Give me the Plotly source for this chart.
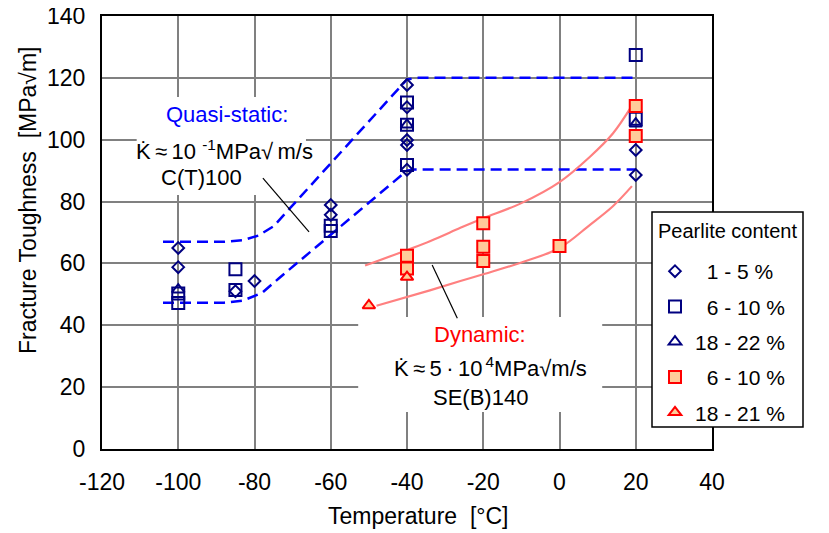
import plotly.graph_objects as go

# ---------------- data ----------------
# Quasi-static (blue, open markers)
qs_d_x = [-100, -100, -85, -80, -60, -60, -40, -40, -40, -40, -40, 20, 20]
qs_d_y = [65.0, 58.8, 51.0, 54.3, 78.9, 75.7, 117.7, 110.5, 99.9, 98.3, 90.3, 96.7, 88.6]
qs_s_x = [-100, -100, -85, -85, -60, -60, -40, -40, -40, 20, 20]
qs_s_y = [50.3, 47.2, 58.1, 51.4, 72.2, 70.5, 112.0, 104.8, 91.8, 127.4, 106.8]
qs_t_x = [-100, -40, 20]
qs_t_y = [51.5, 104.8, 105.2]
# Dynamic (red, filled markers)
dy_s_x = [-40, -40, -20, -20, -20, 0, 20, 20]
dy_s_y = [62.5, 58.4, 73.0, 65.4, 60.8, 65.6, 110.9, 101.2]
dy_t_x = [-50, -40]
dy_t_y = [46.4, 55.6]

# scatter-band curves
qs_up_x = [-104, -88, -83, -79, -75, -40, -37, 20]
qs_up_y = [67.0, 67.0, 67.5, 69.0, 72.0, 119.5, 120.0, 120.0]
qs_lo_x = [-104, -88, -83, -78, -73.5, -40, -38, 20]
qs_lo_y = [47.3, 47.3, 48.0, 50.5, 55.3, 90.0, 90.4, 90.4]
dy_up_x = [-51, -34, -26, -20, -10, 0, 8, 14, 19]
dy_up_y = [59.3, 67.2, 71.5, 74.6, 79.5, 86.3, 94.5, 102.0, 111.0]
dy_lo_x = [-48, -34, -26, -20, -10, 0, 8, 14, 19]
dy_lo_y = [46.3, 51.3, 54.3, 56.5, 60.3, 65.0, 72.5, 78.5, 85.0]

# leader lines
qs_leader_x = [-77.8, -65.7]
qs_leader_y = [87.6, 70.2]
dy_leader_x = [-33.4, -26.8]
dy_leader_y = [59.5, 42.3]

x_ticks = [-120, -100, -80, -60, -40, -20, 0, 20, 40]
y_ticks = [0, 20, 40, 60, 80, 100, 120, 140]

legend_title = "Pearlite content"
legend_names = ["\u00a0\u00a01 - 5 %", "\u00a0\u00a06 - 10 %", "18 - 22 %",
                "\u00a0\u00a06 - 10 %", "18 - 21 %"]

FONT = "Liberation Sans, Arial, sans-serif"
NAVY = "#000080"
BLUE = "#0000FF"
RED = "#FF0000"
PEACH = "#FFCC99"
SALMON = "#FF8080"

# page is offset by the 8px body margin; plot area in page pixels: x 102..712, y 16..449
OFF = 8
PL, PR, PT, PB = 102, 712, 16, 449
PW, PH = PR - PL, PB - PT
W, H = 829 - OFF, 533 - OFF


def px(xp):
    return (xp - PL) / PW


def py(yp):
    return (PB - yp) / PH


fig = go.Figure()

# band lines
for xs, ys in [(qs_up_x, qs_up_y), (qs_lo_x, qs_lo_y)]:
    fig.add_trace(go.Scatter(x=xs, y=ys, mode="lines", showlegend=False, hoverinfo="skip",
                             line=dict(color=BLUE, width=2.5, dash="11px,6px")))
for xs, ys in [(dy_up_x, dy_up_y), (dy_lo_x, dy_lo_y)]:
    fig.add_trace(go.Scatter(x=xs, y=ys, mode="lines", showlegend=False, hoverinfo="skip",
                             line=dict(color=SALMON, width=2.2, shape="spline")))
for xs, ys in [(qs_leader_x, qs_leader_y), (dy_leader_x, dy_leader_y)]:
    fig.add_trace(go.Scatter(x=xs, y=ys, mode="lines", showlegend=False, hoverinfo="skip",
                             line=dict(color="black", width=1.2)))

# markers
fig.add_trace(go.Scatter(x=qs_d_x, y=qs_d_y, mode="markers", name=legend_names[0], legendgroup="a",
                         legendrank=1,
                         marker=dict(symbol="diamond-open", size=9, color=NAVY, line=dict(width=2, color=NAVY))))
fig.add_trace(go.Scatter(x=qs_s_x, y=qs_s_y, mode="markers", name=legend_names[1], legendgroup="b",
                         legendrank=2,
                         marker=dict(symbol="square-open", size=12, color=NAVY, line=dict(width=2, color=NAVY))))
fig.add_trace(go.Scatter(x=qs_t_x, y=qs_t_y, mode="markers", name=legend_names[2], legendgroup="c",
                         legendrank=3,
                         marker=dict(symbol="triangle-up-open", size=11, color=NAVY, line=dict(width=2, color=NAVY))))
fig.add_trace(go.Scatter(x=dy_s_x, y=dy_s_y, mode="markers", name=legend_names[3], legendgroup="d",
                         legendrank=4,
                         marker=dict(symbol="square", size=12, color=PEACH, line=dict(width=2, color=RED))))
fig.add_trace(go.Scatter(x=dy_t_x, y=dy_t_y, mode="markers", name=legend_names[4], legendgroup="e",
                         legendrank=5,
                         marker=dict(symbol="triangle-up", size=11, color=PEACH, line=dict(width=2, color=RED))))

shapes = [
    # white label boxes covering the grid
    dict(type="rect", xref="x", yref="y", x0=-110.9, x1=-66.5, y0=82.1, y1=113.8,
         fillcolor="white", line=dict(width=0), layer="between"),
    dict(type="rect", xref="x", yref="y", x0=-52.8, x1=11.2, y0=12.0, y1=42.7,
         fillcolor="white", line=dict(width=0), layer="between"),
    # legend frame
    dict(type="rect", xref="paper", yref="paper", x0=px(652), x1=px(803), y0=py(427), y1=py(212),
         fillcolor="white", line=dict(width=1.5, color="black"), layer="above"),
]

ann_font = dict(family=FONT, size=22, color="black")
annotations = [
    dict(x=-87.2, y=108.0, text="Quasi-static:", font=dict(family=FONT, size=22, color=BLUE)),
    dict(x=-88.0, y=96.7, text="K\u0307\u2009\u2248\u200910 <sup>-1</sup>MPa\u221a\u2009m/s", font=ann_font),
    dict(x=-93.8, y=87.9, text="C(T)100", font=ann_font),
    dict(x=-20.8, y=36.9, text="Dynamic:", font=dict(family=FONT, size=22, color=RED)),
    dict(x=-18.2, y=26.5, text="K\u0307\u2009\u2248\u20095\u2009\u00b7\u200910<sup>\u20094</sup>MPa\u221am/s", font=ann_font),
    dict(x=-20.6, y=16.8, text="SE(B)140", font=ann_font),
]
for a in annotations:
    a.update(xref="x", yref="y", showarrow=False, xanchor="center", yanchor="middle")

annotations += [
    dict(xref="paper", yref="paper", x=px(418.5), y=py(516),
         text="Temperature\u00a0\u00a0[°C]", showarrow=False, xanchor="center", yanchor="middle",
         font=dict(family=FONT, size=23, color="black")),
    dict(xref="paper", yref="paper", x=px(28), y=py(200),
         text="Fracture Toughness\u00a0\u00a0[MPa\u221am]", textangle=-90, showarrow=False,
         xanchor="center", yanchor="middle", font=dict(family=FONT, size=23, color="black")),
    dict(xref="paper", yref="paper", x=px(727.5), y=py(231), text=legend_title, showarrow=False,
         xanchor="center", yanchor="middle", font=dict(family=FONT, size=20, color="black")),
]

fig.update_layout(
    width=W, height=H,
    margin=dict(l=PL - OFF, r=W - (PR - OFF), t=PT - OFF, b=H - (PB - OFF), autoexpand=False),
    paper_bgcolor="white", plot_bgcolor="white",
    font=dict(family=FONT, size=22, color="black"),
    shapes=shapes, annotations=annotations,
    showlegend=True,
    legend=dict(
        x=px(655), y=py(251), xanchor="left", yanchor="top",
        bgcolor="rgba(0,0,0,0)", borderwidth=0,
        font=dict(family=FONT, size=21, color="black"),
        traceorder="grouped", tracegroupgap=5,
    ),
)
fig.update_xaxes(range=[-120, 40], tickvals=x_ticks, ticktext=[str(v) for v in x_ticks],
                 showgrid=True, gridcolor="#808080", gridwidth=1.5, zeroline=False,
                 showline=True, linecolor="black", linewidth=2, mirror=True, automargin=False,
                 ticks="", ticklabelstandoff=11, ticklabeloverflow="allow",
                 tickfont=dict(family=FONT, size=23))
fig.update_yaxes(range=[0, 140], tickvals=y_ticks, ticktext=[str(v) for v in y_ticks],
                 showgrid=True, gridcolor="#808080", gridwidth=1.5, zeroline=False,
                 showline=True, linecolor="black", linewidth=2, mirror=True, automargin=False,
                 ticks="", ticklabelstandoff=10, ticklabeloverflow="allow",
                 tickfont=dict(family=FONT, size=23))

fig.write_html("out.html")
